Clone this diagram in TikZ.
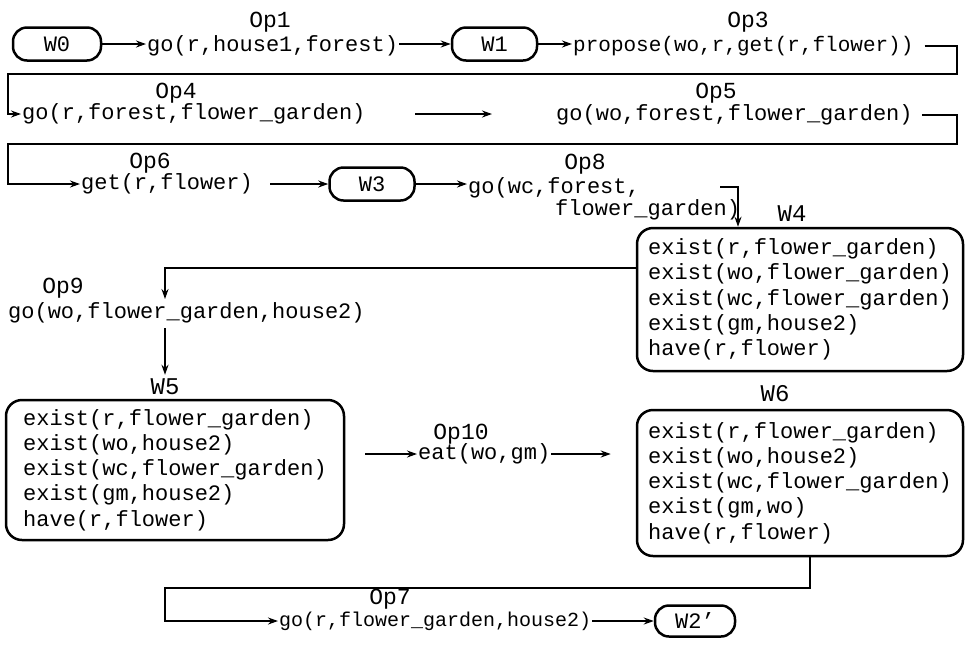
\documentclass[tikz,border=0pt]{standalone}
\usepackage{fontspec}
\setmainfont{Liberation Mono}
\usetikzlibrary{arrows.meta,calc}
\tikzset{
  lab/.style={font=\fontsize{23}{25}\selectfont, inner sep=0pt},
  optxt/.style={font=\fontsize{22}{22}\selectfont, inner sep=1pt},
  optxtmd/.style={font=\fontsize{21}{22}\selectfont, inner sep=1pt},
  optxtsm/.style={font=\fontsize{20}{22}\selectfont, inner sep=1pt},
  wsmall/.style={draw, line width=2.5pt, rounded corners=14pt, minimum height=33pt, font=\fontsize{22}{26}\selectfont, inner sep=0pt},
  wbig/.style={draw, line width=2.5pt, rounded corners=16pt, align=left, font=\fontsize{22}{25.2}\selectfont, inner sep=0pt},
  wlab/.style={font=\fontsize{24}{26}\selectfont, inner sep=0pt},
  conn/.style={line width=2pt},
  arr/.style={conn, -{Stealth[length=10pt,width=7pt]}},
}
\begin{document}
\begin{tikzpicture}[x=1pt,y=-1pt]
\useasboundingbox (0,0) rectangle (965,649);
% row 1
\node[wsmall, minimum width=88pt] (w0) at (57,44) {W0};
\node[lab] (op1l) at (270,22) {Op1};
\node[optxt, anchor=west] (op1) at (146,46) {go(r,house1,forest)};
\node[wsmall, minimum width=85pt] (w1) at (494.5,44) {W1};
\node[lab] (op3l) at (748,22) {Op3};
\node[optxtmd, anchor=west] (op3) at (572,46) {propose(wo,r,get(r,flower))};
\draw[arr] (w0.east) -- (w0.east -| op1.west);
\draw[arr] (op1.east |- w1.west) -- (w1.west);
\draw[arr] (w1.east) -- (w1.east -| op3.west);
% row 2
\node[lab] (op4l) at (176,93) {Op4};
\node[optxt, anchor=west] (op4) at (21,114) {go(r,forest,flower\_garden)};
\node[lab] (op5l) at (716,93) {Op5};
\node[optxt, anchor=west] (op5) at (555,115) {go(wo,forest,flower\_garden)};
\coordinate (r1) at (957,46);
\coordinate (l1) at (8,74);
\draw[arr] ([xshift=10pt]op3.east) -- (r1) |- (l1) |- (op4.west);
\coordinate (a45s) at (415,114);
\coordinate (a45e) at (492,114);
\draw[arr] (a45s) -- (a45e);
% row 3
\node[lab] (op6l) at (150,163) {Op6};
\node[optxt, anchor=west] (op6) at (80,184) {get(r,flower)};
\coordinate (r2) at (957,115);
\coordinate (l2) at (8,144);
\draw[arr] ([xshift=8pt]op5.east) -- (r2) |- (l2) |- (op6.west);
\node[wsmall, minimum width=85pt] (w3) at (372,184) {W3};
\draw[arr] ([xshift=16pt]op6.east) -- (w3.west);
\node[lab] (op8l) at (585,164) {Op8};
\node[optxt, anchor=north west, align=left] (op8) at (467,176) {go(wc,forest,\\\hspace*{87pt}flower\_garden)};
\draw[arr] (w3.east) -- (w3.east -| op8.west);
% W4
\node[wlab] (w4l) at (792,214) {W4};
\node[wbig, minimum width=326pt, minimum height=143pt] (w4) at (800,299.5) {exist(r,flower\_garden)\\exist(wo,flower\_garden)\\exist(wc,flower\_garden)\\exist(gm,house2)\\have(r,flower)};
\coordinate (c8) at (738,187);
\coordinate (c8s) at (720,187);
\draw[arr] (c8s) -- (c8) -- (c8 |- w4.north);
% Op9
\node[lab] (op9l) at (63,288) {Op9};
\node[optxt, anchor=west] (op9) at (7,313) {go(wo,flower\_garden,house2)};
\coordinate (c9) at (165,299);
\draw[arr] (w4.west |- 0,268) -| (c9);
% W5
\node[wlab] (w5l) at (165,387) {W5};
\node[wbig, minimum width=338pt, minimum height=140pt] (w5) at (175,470) {exist(r,flower\_garden)\\exist(wo,house2)\\exist(wc,flower\_garden)\\exist(gm,house2)\\have(r,flower)};
\draw[arr] ([yshift=-4pt]op9.south -| c9) -- ([yshift=4pt]w5l.north -| c9);
% Op10
\node[lab] (op10l) at (461,434) {Op10};
\node[optxt, anchor=west] (op10) at (417,454) {eat(wo,gm)};
% W6
\node[wlab] (w6l) at (775,394) {W6};
\node[wbig, minimum width=326pt, minimum height=146pt] (w6) at (800,483) {exist(r,flower\_garden)\\exist(wo,house2)\\exist(wc,flower\_garden)\\exist(gm,wo)\\have(r,flower)};
\draw[arr, shorten <=20pt] (w5.east |- op10.west) -- (op10.west);
\draw[arr, shorten >=25pt] (op10.east) -- (op10.east -| w6.west);
% last row
\node[lab] (op7l) at (390,599) {Op7};
\node[optxtsm, anchor=west] (op7) at (278,621) {go(r,flower\_garden,house2)};
\node[wsmall, minimum width=80pt, minimum height=31pt] (w2) at (695,621) {W2'};
\coordinate (c7) at (810,588);
\coordinate (l7) at (165,588);
\draw[arr] (w6.south -| c7) -- (c7) -- (l7) |- (op7.west);
\draw[arr] (op7.east) -- (w2.west);
\end{tikzpicture}
\end{document}
